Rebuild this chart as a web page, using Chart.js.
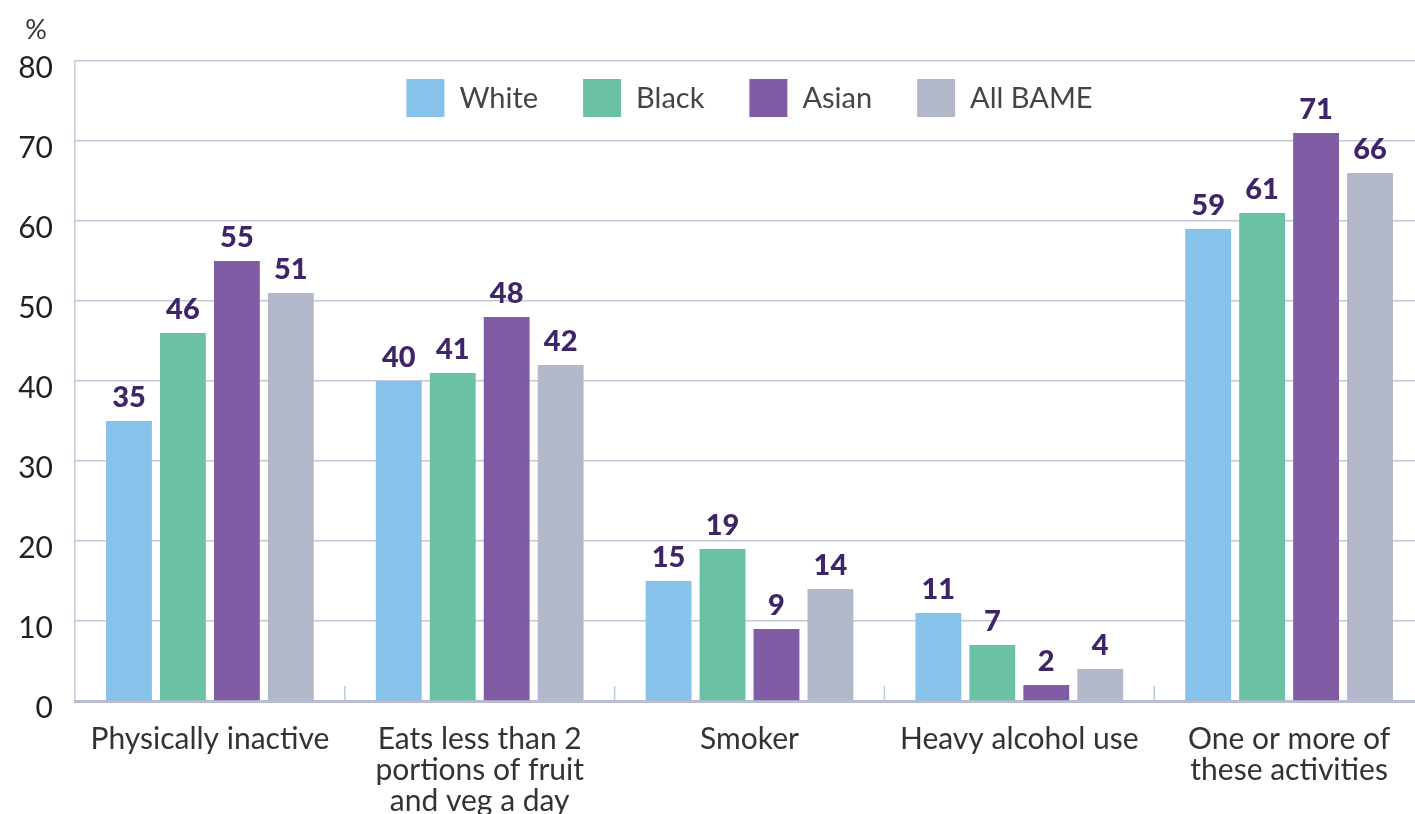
<!DOCTYPE html>
<html>
<head>
<meta charset="utf-8">
<script src="https://cdn.jsdelivr.net/npm/chart.js@4.4.1/dist/chart.umd.min.js"></script>
<style>
  html, body { margin: 0; padding: 0; background: #fff; overflow: hidden; }
  #wrap { width: 1424px; height: 814px; }
</style>
</head>
<body>
<div id="wrap"><canvas id="chart" width="1424" height="814"></canvas></div>
<script>
// Data
const categories = [
    ['Physically inactive'],
    ['Eats less than 2', 'portions of fruit', 'and veg a day'],
    ['Smoker'],
    ['Heavy alcohol use'],
    ['One or more of', 'these activities']
];
const whiteValues = [35, 40, 15, 11, 59];
const blackValues = [46, 41, 19, 7, 61];
const asianValues = [55, 48, 9, 2, 71];
const bameValues = [51, 42, 14, 4, 66];
const seriesNames = ['White', 'Black', 'Asian', 'All BAME'];
const seriesColors = ['#86c2ea', '#6bc1a3', '#7f5ca3', '#b2b8c9'];

const FONT = 'Lato, "Open Sans", sans-serif';
const gridColor = '#c3c7d8';

// value labels above bars
const valueLabels = {
    id: 'valueLabels',
    afterDatasetsDraw(chart) {
        const ctx = chart.ctx;
        ctx.save();
        ctx.font = '900 29px ' + FONT;
        ctx.fillStyle = '#3e2468';
        ctx.textAlign = 'center';
        ctx.textBaseline = 'bottom';
        chart.data.datasets.forEach((ds, i) => {
            chart.getDatasetMeta(i).data.forEach((bar, j) => {
                ctx.fillText(ds.data[j], bar.x, bar.y - 9);
            });
        });
        ctx.restore();
    }
};

// legend drawn inside the plot area, centred at the top
const innerLegend = {
    id: 'innerLegend',
    afterDatasetsDraw(chart) {
        const ctx = chart.ctx;
        const area = chart.chartArea;
        const box = 38, gap = 15, spacing = 45;
        ctx.save();
        ctx.font = '29px ' + FONT;
        const widths = chart.data.datasets.map(ds => ctx.measureText(ds.label).width);
        const total = widths.reduce((a, w) => a + box + gap + w, 0) + spacing * (widths.length - 1);
        let x = (area.left + area.right) / 2 - total / 2;
        const top = area.top + 18;
        ctx.textBaseline = 'middle';
        ctx.textAlign = 'left';
        chart.data.datasets.forEach((ds, i) => {
            ctx.fillStyle = ds.backgroundColor;
            ctx.fillRect(x, top, box, box);
            ctx.fillStyle = '#444';
            ctx.fillText(ds.label, x + box + gap, top + box / 2 + 1);
            x += box + gap + widths[i] + spacing;
        });
        ctx.restore();
    }
};

// short upward separators between categories + "%" unit
const extras = {
    id: 'extras',
    beforeDatasetsDraw(chart) {
        const ctx = chart.ctx;
        const xs = chart.scales.x;
        const bottom = chart.chartArea.bottom;
        ctx.save();
        ctx.strokeStyle = gridColor;
        ctx.lineWidth = 1.5;
        for (let i = 1; i < categories.length; i++) {
            const x = (xs.getPixelForTick(i - 1) + xs.getPixelForTick(i)) / 2;
            ctx.beginPath();
            ctx.moveTo(x, bottom);
            ctx.lineTo(x, bottom - 15);
            ctx.stroke();
        }
        ctx.restore();
    },
    afterDraw(chart) {
        const ctx = chart.ctx;
        const ys = chart.scales.y;
        ctx.save();
        ctx.font = '27px ' + FONT;
        ctx.fillStyle = '#333';
        ctx.textAlign = 'center';
        ctx.textBaseline = 'middle';
        ctx.fillText('%', ys.right - 22 - 17, chart.chartArea.top - 31);
        ctx.restore();
    }
};

new Chart(document.getElementById('chart'), {
    type: 'bar',
    data: {
        labels: categories,
        datasets: [whiteValues, blackValues, asianValues, bameValues].map((vals, i) => ({
            label: seriesNames[i],
            data: vals,
            backgroundColor: seriesColors[i],
            borderWidth: 0,
            categoryPercentage: 0.8,
            barPercentage: 0.85
        }))
    },
    options: {
        responsive: false,
        animation: false,
        layout: { padding: { top: 61, left: 0, right: 0, bottom: 0 } },
        plugins: {
            tooltip: { enabled: false },
            legend: { display: false }
        },
        scales: {
            x: {
                afterFit(scale) { scale.height = 113; },
                grid: { display: false, drawTicks: false },
                border: { display: true, color: '#b8bcd0', width: 3 },
                ticks: {
                    color: '#333',
                    font: { family: FONT, size: 30, lineHeight: 1.03 },
                    padding: 23,
                    maxRotation: 0,
                    autoSkip: false
                }
            },
            y: {
                min: 0,
                max: 80,
                afterFit(scale) { scale.width = 75; },
                ticks: {
                    stepSize: 10,
                    color: '#222',
                    font: { family: FONT, size: 30 },
                    padding: 22,
                    labelOffset: 7
                },
                grid: { color: gridColor, lineWidth: 1.5, drawTicks: false },
                border: { display: true, color: gridColor, width: 1.5 }
            }
        }
    },
    plugins: [valueLabels, innerLegend, extras]
});
</script>
</body>
</html>
